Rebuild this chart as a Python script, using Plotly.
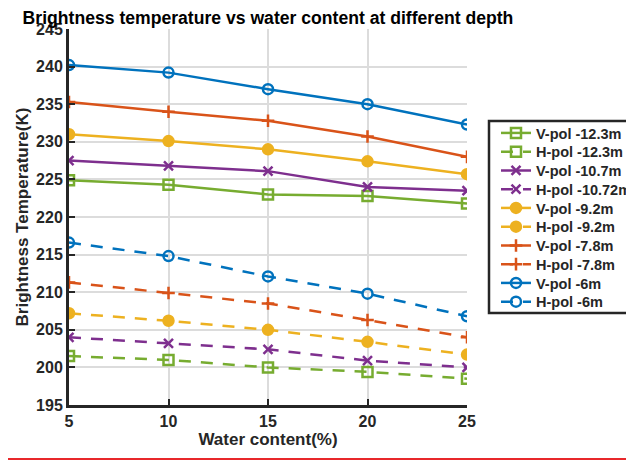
import plotly.graph_objects as go

water = [5, 10, 15, 20, 25]

v_123 = [224.9, 224.3, 223.0, 222.8, 221.8]
h_123 = [201.5, 201.0, 200.0, 199.4, 198.5]
v_107 = [227.5, 226.8, 226.1, 224.0, 223.5]
h_1072 = [204.0, 203.2, 202.4, 200.9, 200.0]
v_92 = [231.0, 230.1, 229.0, 227.4, 225.7]
h_92 = [207.2, 206.2, 205.0, 203.4, 201.7]
v_78 = [235.3, 234.0, 232.8, 230.7, 228.0]
h_78 = [211.3, 209.9, 208.5, 206.3, 204.0]
v_6 = [240.2, 239.2, 237.0, 235.0, 232.3]
h_6 = [216.6, 214.8, 212.1, 209.8, 206.8]

labels = ["V-pol -12.3m", "H-pol -12.3m", "V-pol -10.7m", "H-pol -10.72m",
          "V-pol -9.2m", "H-pol -9.2m", "V-pol -7.8m", "H-pol -7.8m",
          "V-pol -6m", "H-pol -6m"]
series = [v_123, h_123, v_107, h_1072, v_92, h_92, v_78, h_78, v_6, h_6]

green, purple, yellow, orange, blue = "#77AC30", "#7E2F8E", "#EDB120", "#D95319", "#0072BD"
colors = [green, green, purple, purple, yellow, yellow, orange, orange, blue, blue]
symbols = ["square-open", "square-open", "x-thin-open", "x-thin-open", "circle", "circle",
           "cross-thin-open", "cross-thin-open", "circle-open", "circle-open"]

# figure geometry (page body has an 8px margin)
W, H = 634, 461
ML, MR, MT, MB = 61, 175, 21, 64
PW, PH = W - ML - MR, H - MT - MB

def px_to_paper_x(px):
    return (px - ML) / PW

def px_to_paper_y(py):
    return (H - MB - py) / PH

font_family = "Liberation Sans, Arial, sans-serif"
legend_font = dict(size=14.5, family=font_family, color="#262626", weight="bold")

fig = go.Figure()
layout_legends = {}
for i, (lab, ys) in enumerate(zip(labels, series)):
    dashed = i % 2 == 1
    sym = symbols[i]
    lname = "legend" if i == 0 else f"legend{i + 1}"
    fig.add_trace(go.Scatter(
        x=water, y=ys, name=lab, mode="lines+markers", legend=lname,
        line=dict(color=colors[i], width=2.5, dash="12px,10px" if dashed else "solid"),
        marker=dict(symbol=sym, size=10 if "thin" not in sym else 9, color=colors[i],
                    line=dict(color=colors[i], width=2.5)),
    ))
    layout_legends[lname] = dict(
        x=px_to_paper_x(488), y=px_to_paper_y(125 + 18.75 * i),
        xanchor="left", yanchor="middle", bgcolor="rgba(0,0,0,0)", borderwidth=0,
        font=legend_font, itemwidth=30,
    )

fig.update_layout(
    width=W, height=H,
    margin=dict(l=ML, r=MR, t=MT, b=MB, autoexpand=False),
    plot_bgcolor="white", paper_bgcolor="white",
    font=dict(family=font_family, color="#262626"),
    title=dict(text="<b>Brightness temperature vs water content at different depth</b>",
               x=0.5, xref="paper", xanchor="center", y=1 - 9.5 / H, yanchor="middle",
               font=dict(size=17.6, color="black", family=font_family)),
    xaxis=dict(range=[5, 25], tickvals=water, showgrid=True, gridcolor="#DCDCDC", gridwidth=2,
               showline=True, linecolor="#262626", linewidth=3, ticks="inside", ticklen=6,
               tickwidth=2, tickcolor="#262626", zeroline=False, automargin=False,
               tickfont=dict(size=16, family=font_family, color="#262626", weight="bold"),
               title=dict(text="<b>Water content(%)</b>", font=dict(size=17, color="#262626"), standoff=2)),
    yaxis=dict(range=[195, 245], tickvals=list(range(195, 246, 5)), showgrid=True,
               gridcolor="#DCDCDC", gridwidth=2, showline=True, linecolor="#262626", linewidth=3,
               ticks="inside", ticklen=6, tickwidth=2, tickcolor="#262626", zeroline=False,
               automargin=False,
               tickfont=dict(size=16, family=font_family, color="#262626", weight="bold"),
               title=dict(text="<b>Brightness Temperature(K)</b>", font=dict(size=17, color="#262626"), standoff=4)),
    showlegend=True,
    **layout_legends,
)
# legend frame
fig.add_shape(type="rect", xref="paper", yref="paper",
              x0=px_to_paper_x(481), x1=px_to_paper_x(700),
              y0=px_to_paper_y(305), y1=px_to_paper_y(113),
              line=dict(color="#262626", width=2.5), fillcolor="rgba(0,0,0,0)", layer="above")
# red rule at the bottom
fig.add_shape(type="line", xref="paper", yref="paper", x0=-0.3, x1=1.6,
              y0=px_to_paper_y(451), y1=px_to_paper_y(451),
              line=dict(color="#E8282B", width=2))

fig.write_html("out.html")
